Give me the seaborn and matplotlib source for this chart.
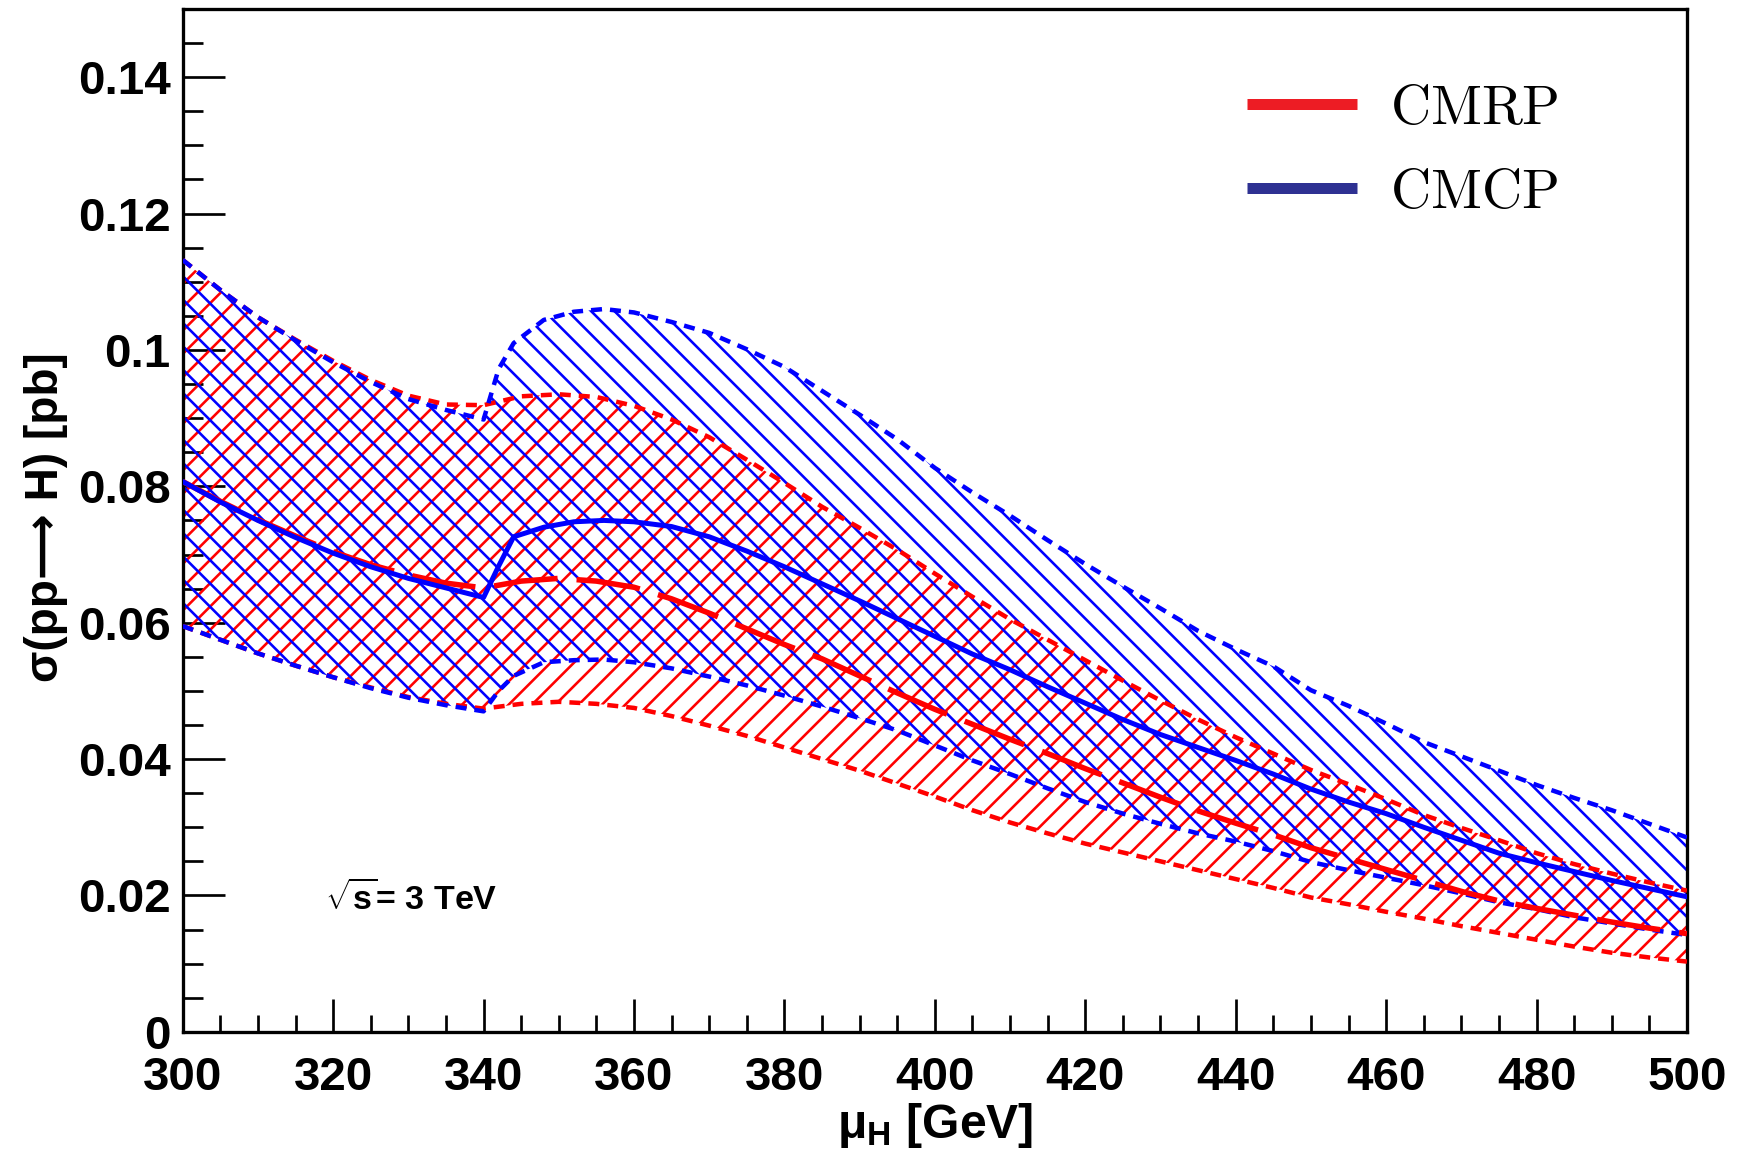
import numpy as np
import pandas as pd
import matplotlib
matplotlib.use("Agg")
import matplotlib.pyplot as plt
from matplotlib.lines import Line2D
from matplotlib.ticker import MultipleLocator, FuncFormatter
import seaborn as sns

# ---------------- data ----------------
red_mass = [300, 305, 310, 315, 320, 325, 330, 335, 340, 345, 350, 355, 360, 365, 370,
            375, 380, 385, 390, 395, 400, 405, 410, 415, 420, 425, 430, 435, 440, 445,
            450, 455, 460, 465, 470, 475, 480, 485, 490, 495, 500]
red_central = [0.0807, 0.0778, 0.0751, 0.0727, 0.0704, 0.0685, 0.0670, 0.0658, 0.0651,
               0.0661, 0.0665, 0.0661, 0.0652, 0.0635, 0.0614, 0.0591, 0.0568, 0.0547,
               0.0522, 0.0497, 0.0473, 0.0451, 0.0429, 0.0408, 0.0386, 0.0365, 0.0344,
               0.0324, 0.0306, 0.0289, 0.0270, 0.0254, 0.0238, 0.0222, 0.0206, 0.0192,
               0.0181, 0.0171, 0.0161, 0.0152, 0.0144]
red_upper = [0.1132, 0.1088, 0.1048, 0.1015, 0.0984, 0.0956, 0.0933, 0.0920, 0.0919,
             0.0932, 0.0935, 0.0931, 0.0918, 0.0898, 0.0872, 0.0839, 0.0805, 0.0770,
             0.0739, 0.0707, 0.0672, 0.0638, 0.0605, 0.0575, 0.0545, 0.0515, 0.0486,
             0.0458, 0.0432, 0.0408, 0.0384, 0.0363, 0.0341, 0.0318, 0.0299, 0.0281,
             0.0262, 0.0246, 0.0232, 0.0219, 0.0207]
red_lower = [0.0595, 0.0575, 0.0555, 0.0537, 0.0520, 0.0505, 0.0491, 0.0481, 0.0474,
             0.0481, 0.0484, 0.0481, 0.0475, 0.0463, 0.0449, 0.0434, 0.0417, 0.0400,
             0.0383, 0.0364, 0.0345, 0.0325, 0.0307, 0.0291, 0.0276, 0.0263, 0.0250,
             0.0237, 0.0224, 0.0211, 0.0197, 0.0187, 0.0176, 0.0166, 0.0155, 0.0145,
             0.0135, 0.0125, 0.0116, 0.0109, 0.0103]

blue_mass = [300, 305, 310, 315, 320, 325, 330, 335, 340, 342, 344, 348, 352, 356, 360,
             365, 370, 375, 380, 385, 390, 395, 400, 405, 410, 415, 420, 425, 430, 435,
             440, 445, 450, 455, 460, 465, 470, 475, 480, 485, 490, 495, 500]
blue_central = [0.0807, 0.0777, 0.0750, 0.0725, 0.0702, 0.0682, 0.0665, 0.0651, 0.0637,
                0.0683, 0.0726, 0.0740, 0.0748, 0.0750, 0.0748, 0.0741, 0.0726, 0.0705,
                0.0682, 0.0657, 0.0632, 0.0606, 0.0580, 0.0554, 0.0531, 0.0506, 0.0482,
                0.0458, 0.0436, 0.0417, 0.0398, 0.0378, 0.0356, 0.0337, 0.0320, 0.0300,
                0.0281, 0.0262, 0.0248, 0.0235, 0.0222, 0.0210, 0.0198]
blue_upper = [0.1132, 0.1088, 0.1048, 0.1014, 0.0982, 0.0953, 0.0928, 0.0912, 0.0898,
              0.0972, 0.1010, 0.1044, 0.1056, 0.1060, 0.1055, 0.1041, 0.1025, 0.1001,
              0.0975, 0.0940, 0.0905, 0.0869, 0.0827, 0.0791, 0.0757, 0.0721, 0.0686,
              0.0653, 0.0621, 0.0588, 0.0561, 0.0536, 0.0501, 0.0478, 0.0452, 0.0425,
              0.0404, 0.0383, 0.0362, 0.0343, 0.0325, 0.0305, 0.0285]
blue_lower = [0.0595, 0.0575, 0.0555, 0.0537, 0.0520, 0.0504, 0.0490, 0.0479, 0.0470,
              0.0500, 0.0522, 0.0542, 0.0545, 0.0546, 0.0542, 0.0533, 0.0521, 0.0508,
              0.0493, 0.0477, 0.0460, 0.0442, 0.0420, 0.0398, 0.0378, 0.0357, 0.0337,
              0.0320, 0.0305, 0.0291, 0.0279, 0.0265, 0.0249, 0.0237, 0.0226, 0.0215,
              0.0203, 0.0190, 0.0180, 0.0168, 0.0159, 0.0150, 0.0142]

legend_labels = ["CMRP", "CMCP"]
x_ticks = [300, 320, 340, 360, 380, 400, 420, 440, 460, 480, 500]
y_ticks = [0, 0.02, 0.04, 0.06, 0.08, 0.1, 0.12, 0.14]

red_df = pd.DataFrame({"mass": red_mass, "central": red_central,
                       "upper": red_upper, "lower": red_lower})
blue_df = pd.DataFrame({"mass": blue_mass, "central": blue_central,
                        "upper": blue_upper, "lower": blue_lower})

# ---------------- style ----------------
DPI = 70
def px(n):
    return n * 72.0 / DPI

sns.set_theme(style="ticks")
plt.rcParams["font.family"] = ["Liberation Sans", "DejaVu Sans"]
plt.rcParams["font.weight"] = "bold"
plt.rcParams["mathtext.fontset"] = "custom"
plt.rcParams["mathtext.rm"] = "Liberation Sans"
plt.rcParams["mathtext.it"] = "Liberation Sans:italic"
plt.rcParams["mathtext.bf"] = "Liberation Sans:bold"
plt.rcParams["hatch.linewidth"] = px(2.6)
plt.rcParams["lines.scale_dashes"] = False
for k in ["text.color", "axes.labelcolor", "xtick.color", "ytick.color", "axes.edgecolor"]:
    plt.rcParams[k] = "black"

RED = "#ff0000"
BLUE = "#0000ff"

fig = plt.figure(figsize=(1737 / DPI, 1157 / DPI), dpi=DPI)
ax = fig.add_axes([0.1052, 0.1082, 0.8660, 0.8840])

# hatched bands
ax.fill_between(red_df["mass"], red_df["lower"], red_df["upper"], facecolor="none",
                edgecolor=RED, linewidth=0, hatch="/", zorder=1)
ax.fill_between(blue_df["mass"], blue_df["lower"], blue_df["upper"], facecolor="none",
                edgecolor=BLUE, linewidth=0, hatch="\\", zorder=1)

edge_dash = (0, (px(11), px(8)))
for df, col in [(red_df, RED), (blue_df, BLUE)]:
    for key in ["upper", "lower"]:
        sns.lineplot(data=df, x="mass", y=key, color=col, linewidth=px(4.5),
                     linestyle=edge_dash, ax=ax, zorder=3, estimator=None, sort=False)

sns.lineplot(data=red_df, x="mass", y="central", color=RED, linewidth=px(5.5),
             linestyle=(0, (px(64), px(19))), ax=ax, zorder=4, estimator=None, sort=False)
sns.lineplot(data=blue_df, x="mass", y="central", color=BLUE, linewidth=px(5),
             ax=ax, zorder=5, estimator=None, sort=False)
for ln in ax.get_lines():
    ln.set_dash_capstyle("butt")

# axes
ax.set_xlim(300, 500)
ax.set_ylim(0, 0.15)
ax.set_xticks(x_ticks)
ax.set_yticks(y_ticks)
ax.xaxis.set_minor_locator(MultipleLocator(5))
ax.yaxis.set_minor_locator(MultipleLocator(0.005))
ax.yaxis.set_major_formatter(FuncFormatter(lambda v, p: "%g" % v))
ax.xaxis.set_major_formatter(FuncFormatter(lambda v, p: "%g" % v))

for sp in ax.spines.values():
    sp.set_linewidth(px(3.3))
    sp.set_color("black")
    sp.set_visible(True)

tick_fs = px(47.5)
ax.tick_params(axis="x", which="major", direction="in", length=px(33), width=px(2.7),
               labelsize=tick_fs, pad=px(24), top=False, color="black")
ax.tick_params(axis="x", which="minor", direction="in", length=px(17), width=px(2.7),
               top=False, color="black")
ax.tick_params(axis="y", which="major", direction="in", length=px(42), width=px(2.7),
               labelsize=tick_fs, pad=px(12), right=False, color="black")
ax.tick_params(axis="y", which="minor", direction="in", length=px(20), width=px(2.7),
               right=False, color="black")
for lab in ax.get_xticklabels() + ax.get_yticklabels():
    lab.set_fontweight("bold")

ax.set_xlabel(r"$\mathrm{\mu}_{\mathbf{H}}$ [GeV]", fontsize=px(48), fontweight="bold")
ax.xaxis.set_label_coords(0.5, -0.068)
ax.set_ylabel("σ(pp\u27f6 H) [pb]", fontsize=px(46), fontweight="bold")
ax.yaxis.set_label_coords(-0.0765, 0.503)

ax.text(0.0946, 0.119, r"$\sqrt{\mathbf{s}}$= 3 TeV", transform=ax.transAxes,
        fontsize=px(34), fontweight="bold", ha="left", va="baseline")

handles = [Line2D([], [], color="#ed1c24", linewidth=px(11), solid_capstyle="butt"),
           Line2D([], [], color="#2e3192", linewidth=px(11), solid_capstyle="butt")]
leg = ax.legend(handles, [r"$\mathrm{%s}$" % s for s in legend_labels],
                loc="upper left", bbox_to_anchor=(0.7075, 0.927), frameon=False,
                borderpad=0, borderaxespad=0, handlelength=1.98, handletextpad=0.60,
                labelspacing=0.58,
                prop={"size": px(55.6), "math_fontfamily": "cm", "weight": "normal"})

fig.savefig("out.png", dpi=DPI)
